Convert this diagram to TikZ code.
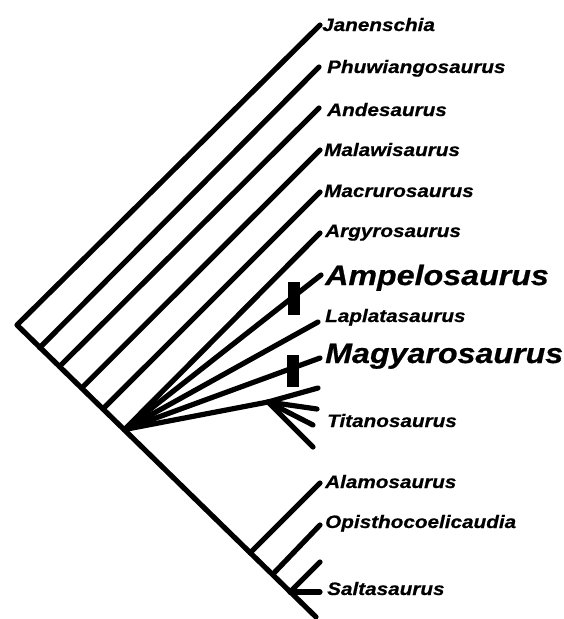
\documentclass[tikz,border=0pt]{standalone}
\usepackage{fontspec}
\newfontfamily\labfont{Liberation Sans}[FakeStretch=1.15,FakeBold=0.6]
\begin{document}
\begin{tikzpicture}[x=1pt,y=-1pt,
  branch/.style={line width=5.2pt,line cap=round,line join=round},
  taxon/.style={anchor=base west,inner sep=0pt,font=\labfont\bfseries\itshape\fontsize{18}{20}\selectfont},
  bigtaxon/.style={anchor=base west,inner sep=0pt,font=\labfont\bfseries\itshape\fontsize{28}{30}\selectfont},
  bar/.style={fill=black,inner sep=0pt,minimum width=12pt,minimum height=33pt}]
\useasboundingbox (0,0) rectangle (563,619);
% tree nodes
\coordinate (root) at (17,325);
\coordinate (n1) at (39.7,347.7);
\coordinate (n2) at (59.5,366.5);
\coordinate (n3) at (81.7,388);
\coordinate (n4) at (102.9,409);
\coordinate (P) at (124.5,429.5);
\coordinate (T) at (268,402);
\coordinate (nA) at (250,553);
\coordinate (nO) at (273,574);
\coordinate (nS) at (290,592);
\coordinate (spineend) at (316,617);
% tips
\coordinate (tJan) at (320,25);
\coordinate (tPhu) at (319,67);
\coordinate (tAnd) at (319,108);
\coordinate (tMal) at (320,150);
\coordinate (tMac) at (320,192);
\coordinate (tArg) at (320,233);
\coordinate (tAmp) at (321,275);
\coordinate (tLap) at (318,322);
\coordinate (tMag) at (320,358);
\coordinate (tU1) at (318,388);
\coordinate (tU2) at (317,409);
\coordinate (tTit) at (313,425);
\coordinate (tU3) at (313,447);
\coordinate (tAla) at (320,483);
\coordinate (tOpi) at (320,525);
\coordinate (tU4) at (320,562);
\coordinate (tSal) at (320,592);
% spine and branches
\draw[branch] (tJan) -- (root) -- (spineend);
\draw[branch] (n1) -- (tPhu);
\draw[branch] (n2) -- (tAnd);
\draw[branch] (n3) -- (tMal);
\draw[branch] (n4) -- (tMac);
\draw[branch] (P) -- (tArg);
\draw[branch] (P) -- (tAmp);
\draw[branch] (P) -- (tLap);
\draw[branch] (P) -- (tMag);
\draw[branch] (P) -- (T);
\draw[branch] (T) -- (tU1);
\draw[branch] (T) -- (tU2);
\draw[branch] (T) -- (tTit);
\draw[branch] (T) -- (tU3);
\draw[branch] (nA) -- (tAla);
\draw[branch] (nO) -- (tOpi);
\draw[branch] (nS) -- (tU4);
\draw[branch] (nS) -- (tSal);
% bars
\node[bar] (ampbar) at (294,298.5) {};
\node[bar,minimum width=12pt,minimum height=32pt] (magbar) at (293,371) {};
% labels
\node[taxon] (lJan) at (322,31) {Janenschia};
\node[taxon] (lPhu) at (327,73) {Phuwiangosaurus};
\node[taxon] (lAnd) at (327,116) {Andesaurus};
\node[taxon] (lMal) at (324,156) {Malawisaurus};
\node[taxon] (lMac) at (324,197) {Macrurosaurus};
\node[taxon] (lArg) at (325,237) {Argyrosaurus};
\node[bigtaxon] (lAmp) at (325,285) {Ampelosaurus};
\node[taxon] (lLap) at (325,322) {Laplatasaurus};
\node[bigtaxon] (lMag) at (325,363) {Magyarosaurus};
\node[taxon] (lTit) at (327,427) {Titanosaurus};
\node[taxon] (lAla) at (325,488) {Alamosaurus};
\node[taxon] (lOpi) at (325,528) {Opisthocoelicaudia};
\node[taxon] (lSal) at (327,595) {Saltasaurus};
\end{tikzpicture}
\end{document}
